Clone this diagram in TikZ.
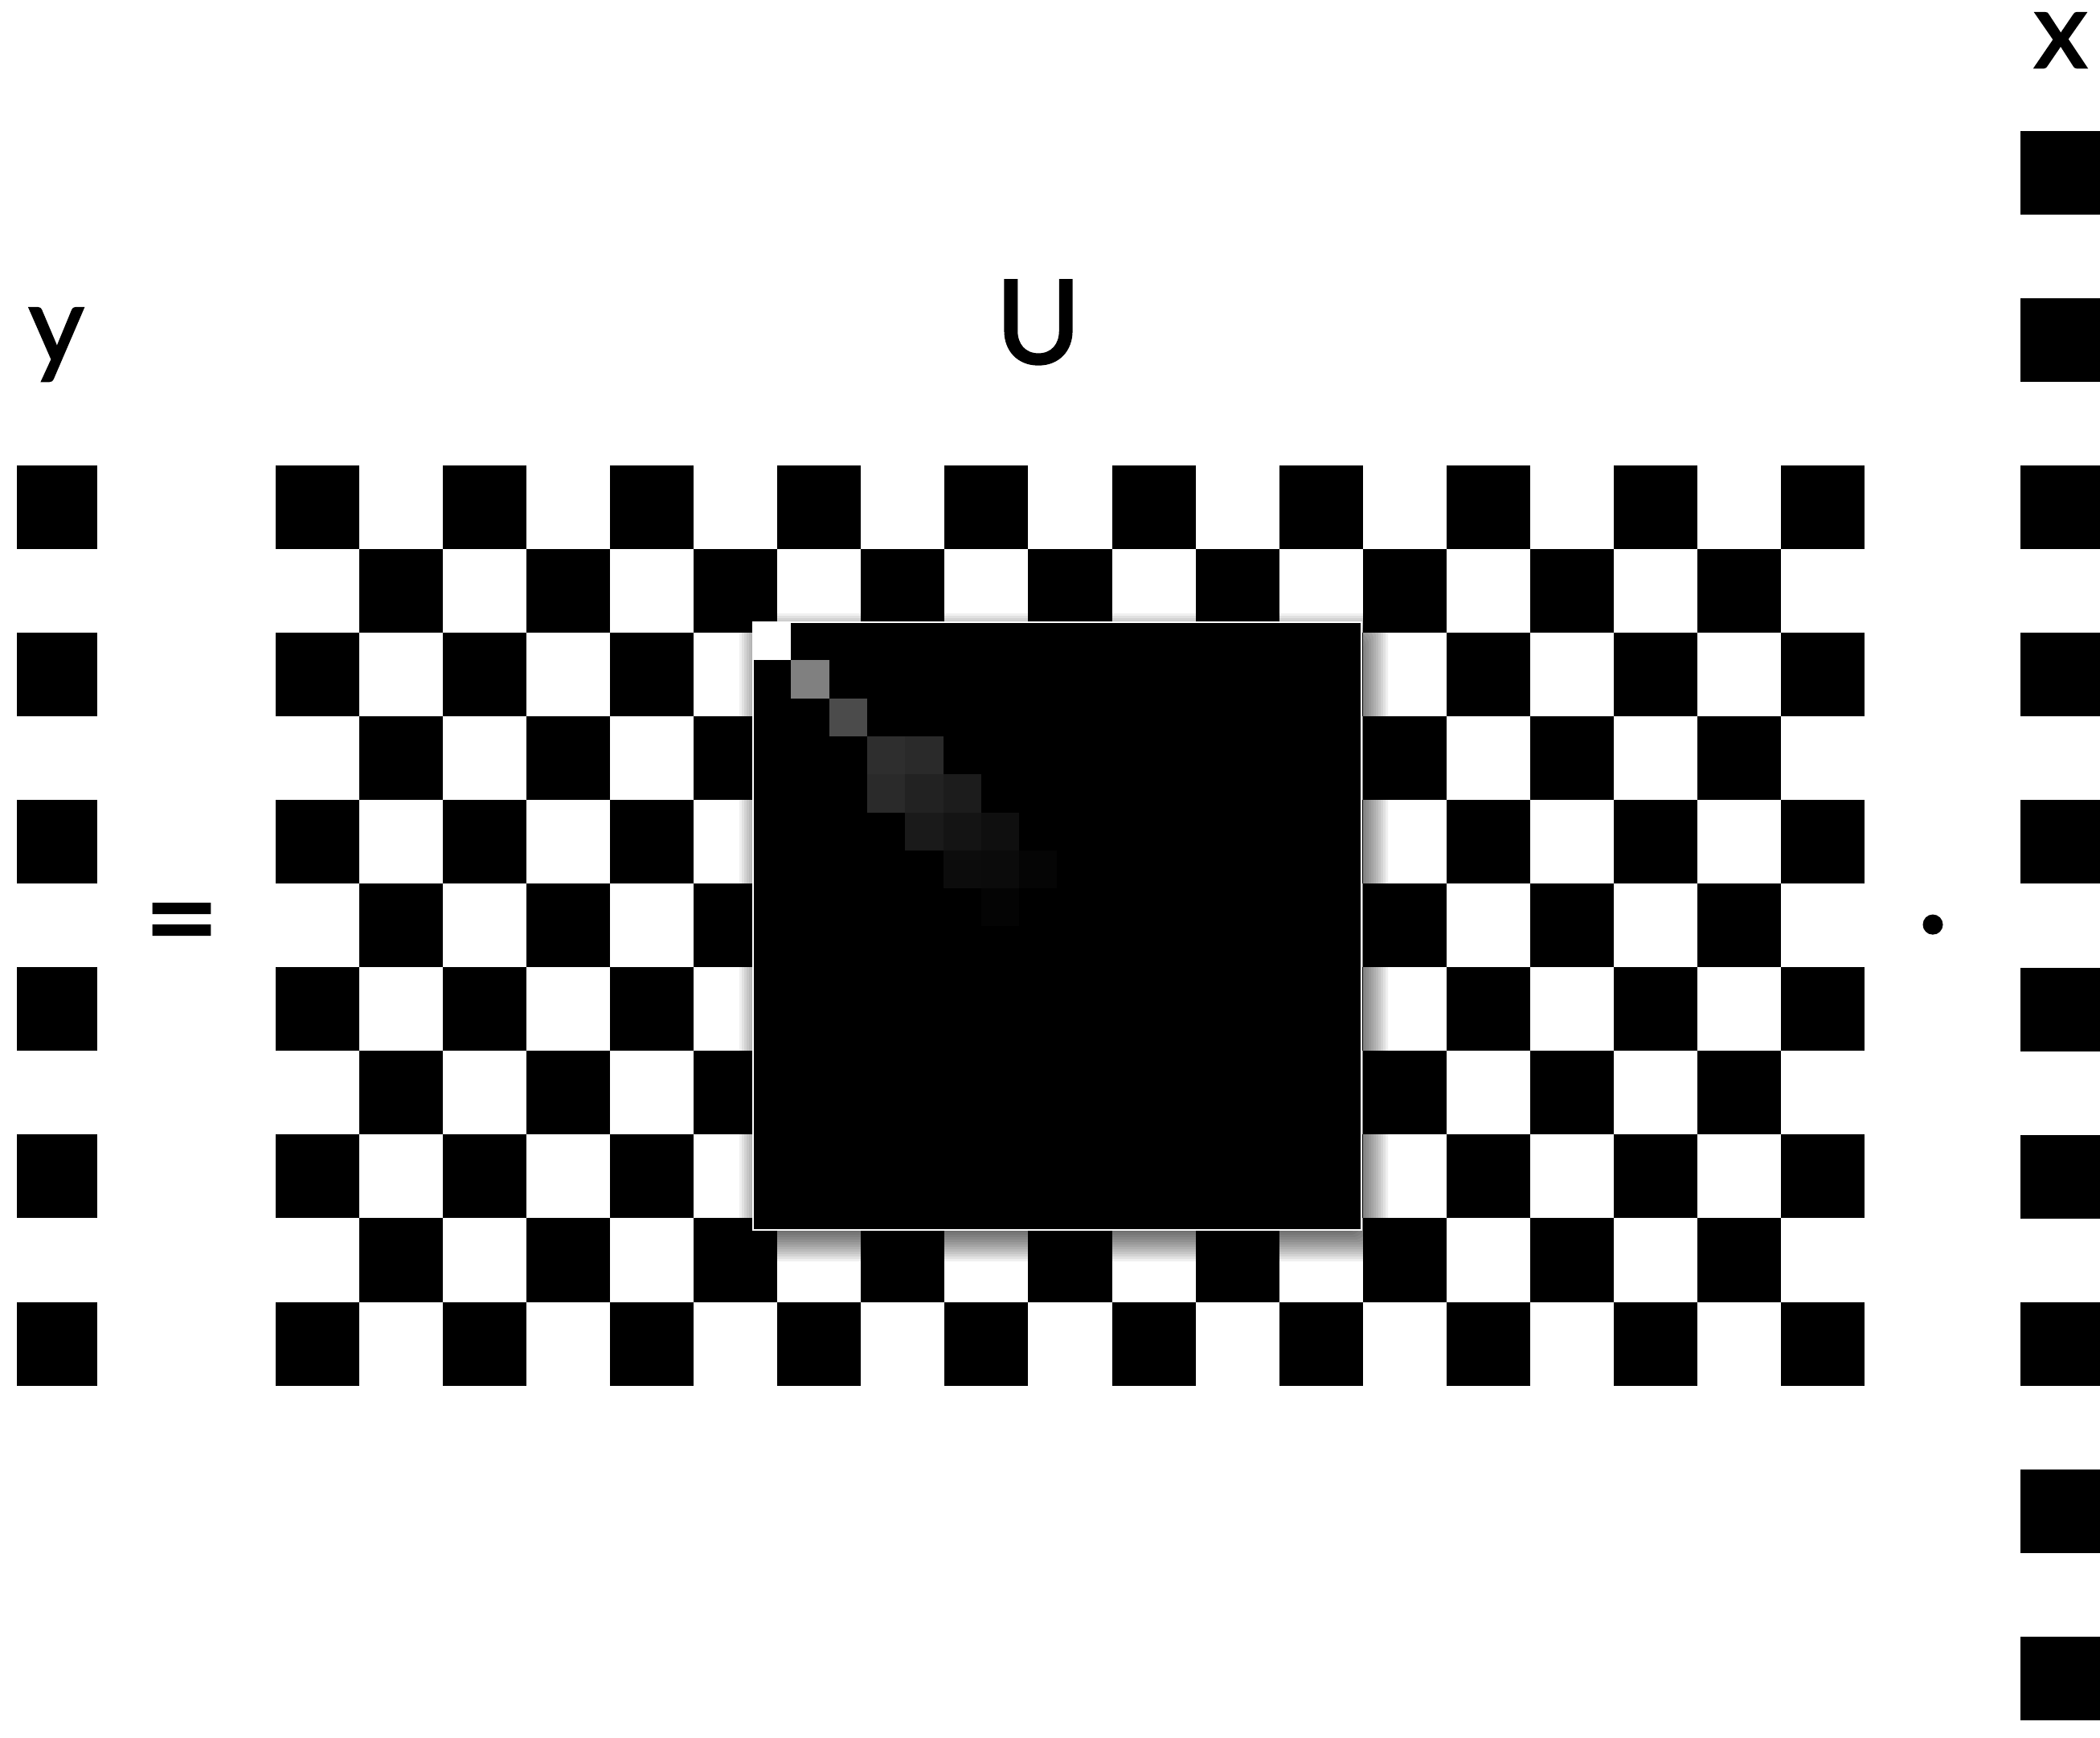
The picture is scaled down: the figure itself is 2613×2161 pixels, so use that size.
\documentclass[tikz,border=0pt]{standalone}
\usepackage{fontspec}
\setmainfont{Lato}
\newfontfamily\lblfont[FakeBold=2]{Lato}
\begin{document}
\begin{tikzpicture}[x=0.01cm,y=-0.01cm,
  lbl/.style={inner sep=0pt, anchor=base, font=\lblfont\fontsize{38}{40}\selectfont},
  biglbl/.style={lbl, font=\lblfont\fontsize{41}{44}\selectfont},
  oplbl/.style={lbl, font=\lblfont\fontsize{46}{50}\selectfont},
  dotlbl/.style={lbl, font=\lblfont\fontsize{42}{46}\selectfont},
  blk/.style={fill=black},
  shadowlayer/.style={fill=black, fill opacity=0.06, rounded corners=4pt}]
\useasboundingbox (0,0) rectangle (2613,2161);
\fill[white] (0,0) rectangle (2613,2161);
\def\cw{104.05}
% y vector
\foreach \r in {0,2,...,10}
  \fill[blk] (21,{579+\r*\cw}) rectangle +(100,\cw);
% x vector
\foreach \r in {0,2,...,18}
  \fill[blk] (2514,{163+\r*\cw}) rectangle +(99,\cw);
% checkerboard U
\foreach \r in {0,...,10}
  \foreach \c in {0,...,18}{
    \pgfmathtruncatemacro\myparity{mod(\r+\c,2)}
    \ifnum\myparity=0
      \fill[blk] ({343+\c*\cw},{579+\r*\cw}) rectangle +(\cw,\cw);
    \fi
  }
% drop shadow of inset
\foreach \k in {-20,-17,...,25}
  \fill[shadowlayer] ({937+8-\k},{774+14-\k}) rectangle ({1694+8+\k},{1530+14+\k});
% inset matrix
\def\cs{47.3}
\fill[black] (937,774) rectangle (1694,1530);
\foreach \r/\c/\v in {0/0/255,1/1/128,2/2/75,3/3/46,3/4/42,4/3/42,4/4/34,4/5/28,5/4/26,5/5/20,5/6/15,6/5/12,6/6/11,6/7/5,7/6/4}{
  \definecolor{tmpgray}{RGB}{\v,\v,\v}
  \fill[tmpgray] ({937+\c*\cs},{774+\r*\cs}) rectangle +(\cs,\cs);
}
\draw[white, line width=0.5pt] (937,774) rectangle (1694,1530);
% labels
\node[lbl] (ylab) at (70,451) {y};
\node[biglbl] (Ulab) at (1292,452) {U};
\node[lbl] (xlab) at (2564,84) {x};
\node[oplbl] (eq) at (226,1198) {=};
\node[dotlbl] (dot) at (2405,1194) {·};
\end{tikzpicture}
\end{document}
